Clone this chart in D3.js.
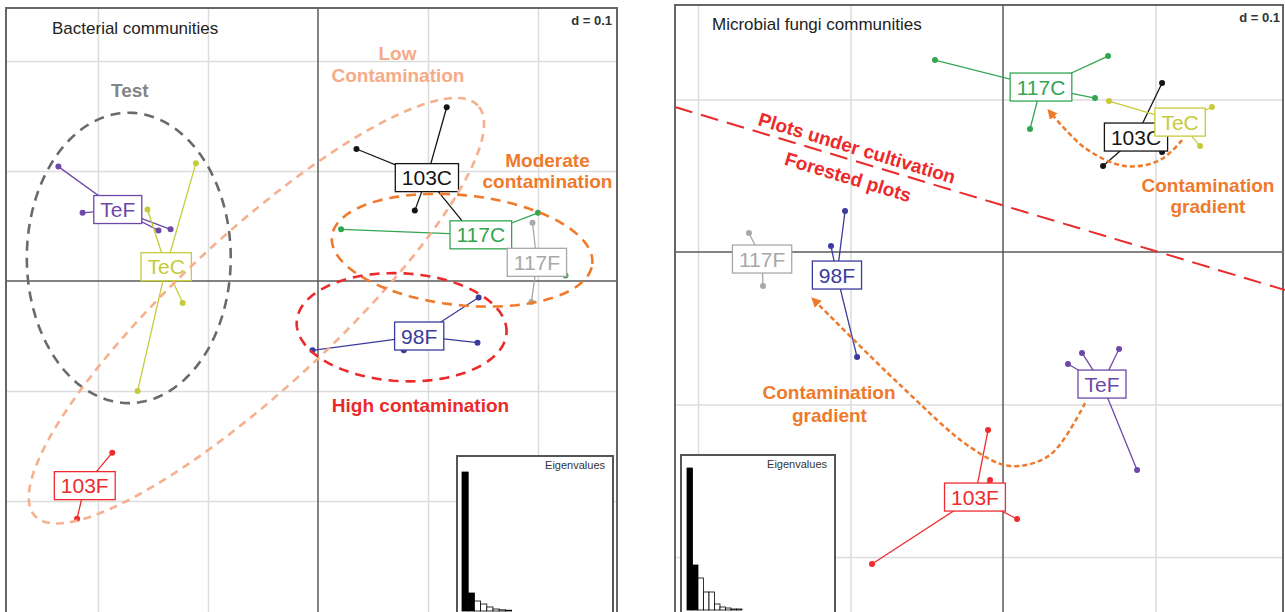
<!DOCTYPE html>
<html>
<head>
<meta charset="utf-8">
<script src="https://cdn.jsdelivr.net/npm/d3@7"></script>
<style>
    body { margin: 0; background: #fff; }
    svg { display: block; font-family: "Liberation Sans", Arial, sans-serif; }
</style>
</head>
<body>
<div id="chart"></div>
<script>
// sample classes
const groups = ['TeF', 'TeC', '103F', '103C', '117C', '117F', '98F'];

// bacterial communities: [class, axis 1, axis 2]
const bactPoints = [
    ['TeF', -0.236, 0.104], ['TeF', -0.214, 0.062], ['TeF', -0.145, 0.046], ['TeF', -0.134, 0.047],
    ['TeC', -0.111, 0.107], ['TeC', -0.155, 0.065], ['TeC', -0.123, -0.020], ['TeC', -0.164, -0.100],
    ['103F', -0.187, -0.156], ['103F', -0.219, -0.216],
    ['103C', 0.117, 0.158], ['103C', 0.035, 0.120], ['103C', 0.088, 0.064], ['103C', 0.138, 0.046],
    ['117C', 0.021, 0.047], ['117C', 0.200, 0.062], ['117C', 0.225, 0.005],
    ['117F', 0.195, 0.053], ['117F', 0.194, -0.019],
    ['98F', -0.005, -0.063], ['98F', 0.146, -0.015], ['98F', 0.145, -0.056], ['98F', 0.078, -0.063]
];
// class centres (label positions)
const bactCentres = [
    ['TeF', -0.182, 0.065], ['TeC', -0.138, 0.013], ['103F', -0.212, -0.186],
    ['103C', 0.099, 0.094], ['117C', 0.148, 0.042], ['117F', 0.199, 0.017], ['98F', 0.092, -0.050]
];
const bactEigen = [0.139, 0.018, 0.010, 0.007, 0.004, 0.002, 0.0012, 0.0008];
// hand-drawn groupings: [name, cx, cy, rx, ry, angle deg]
const bactEllipses = [
    ['Test', -0.172, 0.021, 0.0927, 0.132, 0],
    ['Low', -0.056, -0.027, 0.2745, 0.070, 42.8],
    ['Moderate', 0.131, 0.028, 0.119, 0.050, -6],
    ['High', 0.076, -0.042, 0.0955, 0.049, -3]
];
const bactNotes = [
    ['Test', 'Test', -0.171, 0.167],
    ['Low', 'Low', 0.0723, 0.2009],
    ['Low', 'Contamination', 0.0727, 0.1809],
    ['Moderate', 'Moderate', 0.2086, 0.1036],
    ['Moderate', 'contamination', 0.2086, 0.0845],
    ['High', 'High contamination', 0.0932, -0.1191]
];

// microbial fungi communities
const fungiPoints = [
    ['117C', -0.0446, 0.1259], ['117C', 0.0689, 0.1285], ['117C', 0.0603, 0.1010], ['117C', 0.0177, 0.0807],
    ['103C', 0.1043, 0.1108], ['103C', 0.0656, 0.0564], ['103C', 0.1043, 0.0656],
    ['TeC', 0.0695, 0.0990], ['TeC', 0.1370, 0.0951], ['TeC', 0.1292, 0.0695],
    ['117F', -0.1666, 0.0125], ['117F', -0.1574, -0.0223],
    ['98F', -0.1036, 0.0269], ['98F', -0.1128, 0.0039], ['98F', -0.0957, -0.0689],
    ['TeF', 0.0426, -0.0734], ['TeF', 0.0518, -0.0662], ['TeF', 0.0761, -0.0636], ['TeF', 0.0879, -0.1430],
    ['103F', -0.0098, -0.1167], ['103F', -0.0085, -0.1495], ['103F', 0.0092, -0.1751], ['103F', -0.0859, -0.2046]
];
const fungiCentres = [
    ['117C', 0.0249, 0.1082], ['103C', 0.0872, 0.0754], ['TeC', 0.1161, 0.0852],
    ['117F', -0.1580, -0.0046], ['98F', -0.1089, -0.0151], ['TeF', 0.0649, -0.0866], ['103F', -0.0184, -0.1607]
];
const fungiEigen = [0.142, 0.045, 0.032, 0.018, 0.018, 0.006, 0.003, 0.002, 0.001, 0.001];
const fungiDivider = [[-0.2151, 0.0951], [0.1849, -0.0249]];
const fungiArrows = [
    [[0.1174, 0.0734], [0.1030, 0.0603], [0.0800, 0.0564], [0.0538, 0.0682], [0.0308, 0.0918]],
    [[0.0538, -0.0990], [0.0308, -0.1331], [0.0046, -0.1403], [-0.0216, -0.1279], [-0.0675, -0.0872], [-0.1239, -0.0315]]
];
const fungiNotes = [
    ['grad', 'Contamination', 0.1344, 0.0393],
    ['grad', 'gradient', 0.1344, 0.0256],
    ['grad', 'Contamination', -0.1141, -0.0964],
    ['grad', 'gradient', -0.1138, -0.1115]
];
const dividerNotes = [
    ['Plots under cultivation', -0.0957, 0.0682],
    ['Forested plots', -0.1016, 0.0492]
];

const colors = {
    'TeF': '#6e48a8', 'TeC': '#c6cb3a', '103F': '#ee2b2f', '103C': '#151515',
    '117C': '#33a551', '117F': '#a8a8a8', '98F': '#3a3b9c'
};
const noteColors = {
    'Test': '#858585', 'Low': '#f5ab86', 'Moderate': '#ef7a2b', 'High': '#eb2a2c', 'grad': '#ee7a2c'
};
const ellipseColors = {
    'Test': '#6a6a6a', 'Low': '#f6b08d', 'Moderate': '#ef7a2b', 'High': '#eb2a2c'
};

const width = 1285;
const height = 612;

const svg = d3.select('#chart')
    .append('svg')
    .attr('width', width)
    .attr('height', height);

svg.append('defs').append('marker')
    .attr('id', 'arrow')
    .attr('viewBox', '0 0 10 10')
    .attr('refX', 6)
    .attr('refY', 5)
    .attr('markerWidth', 4)
    .attr('markerHeight', 4)
    .attr('orient', 'auto')
    .append('path')
    .attr('d', 'M0,0 L10,5 L0,10 z')
    .attr('fill', '#ee7a2c');

function drawPanel(p) {
    const [x0, x1, y0, y1] = p.box;
    const x = d3.scaleLinear().domain(p.xDomain).range([x0, x1]);
    const y = d3.scaleLinear().domain(p.yDomain).range([y0, y1]);
    const g = svg.append('g');

    // light grid, one line per 0.1
    g.append('g')
        .attr('transform', 'translate(0,' + y1 + ')')
        .call(d3.axisBottom(x).tickValues(p.gridX).tickSize(-(y1 - y0)).tickFormat(''))
        .call(a => a.select('.domain').remove())
        .selectAll('line').attr('stroke', '#dcdcdc').attr('stroke-width', 1.5);
    g.append('g')
        .attr('transform', 'translate(' + x0 + ',0)')
        .call(d3.axisLeft(y).tickValues(p.gridY).tickSize(-(x1 - x0)).tickFormat(''))
        .call(a => a.select('.domain').remove())
        .selectAll('line').attr('stroke', '#dcdcdc').attr('stroke-width', 1.5);

    // zero axes
    g.append('line')
        .attr('x1', x(0)).attr('x2', x(0)).attr('y1', y0).attr('y2', y1)
        .attr('stroke', '#5a5a5a').attr('stroke-width', 1.5);
    g.append('line')
        .attr('x1', x0).attr('x2', x1).attr('y1', y(0)).attr('y2', y(0))
        .attr('stroke', '#5a5a5a').attr('stroke-width', 1.5);

    g.append('rect')
        .attr('x', x0).attr('y', y0)
        .attr('width', x1 - x0).attr('height', y1 - y0)
        .attr('fill', 'none').attr('stroke', '#666').attr('stroke-width', 2);

    g.append('text')
        .attr('x', p.titlePos[0]).attr('y', p.titlePos[1])
        .attr('font-size', 17).attr('fill', '#222')
        .text(p.title);
    g.append('text')
        .attr('x', p.dPos[0]).attr('y', p.dPos[1])
        .attr('text-anchor', 'end')
        .attr('font-size', 13).attr('font-weight', 'bold').attr('fill', '#333')
        .text('d = 0.1');

    // eigenvalue inset
    const [ex0, ex1, ey0, ey1] = p.inset;
    const inset = g.append('g');
    inset.append('rect')
        .attr('x', ex0).attr('y', ey0)
        .attr('width', ex1 - ex0).attr('height', ey1 - ey0)
        .attr('fill', '#fff').attr('stroke', '#555').attr('stroke-width', 2);
    const bx = d3.scaleBand()
        .domain(d3.range(p.eigen.length))
        .range([p.bars[0], p.bars[0] + p.bars[1] * p.eigen.length]);
    const by = d3.scaleLinear()
        .domain([0, d3.max(p.eigen)])
        .range([p.bars[2], p.bars[3]]);
    inset.selectAll('rect.bar')
        .data(p.eigen)
        .enter()
        .append('rect')
        .attr('class', 'bar')
        .attr('x', (d, i) => bx(i))
        .attr('y', d => by(d))
        .attr('width', bx.bandwidth())
        .attr('height', d => by(0) - by(d))
        .attr('fill', (d, i) => i < 2 ? '#000' : '#fff')
        .attr('stroke', '#000')
        .attr('stroke-width', 0.8);
    inset.append('text')
        .attr('x', ex1 - 8).attr('y', ey0 + 13)
        .attr('text-anchor', 'end')
        .attr('font-size', 11).attr('fill', '#333')
        .text('Eigenvalues');

    // star lines from class centre to each sample
    const centre = {};
    p.centres.forEach(c => centre[c[0]] = c);
    g.append('g')
        .selectAll('line')
        .data(p.points)
        .enter()
        .append('line')
        .attr('x1', d => x(centre[d[0]][1]))
        .attr('y1', d => y(centre[d[0]][2]))
        .attr('x2', d => x(d[1]))
        .attr('y2', d => y(d[2]))
        .attr('stroke', d => colors[d[0]])
        .attr('stroke-width', 1.3);
    g.append('g')
        .selectAll('circle')
        .data(p.points)
        .enter()
        .append('circle')
        .attr('cx', d => x(d[1]))
        .attr('cy', d => y(d[2]))
        .attr('r', 3)
        .attr('fill', d => colors[d[0]]);

    // class labels in boxes
    const labels = g.append('g')
        .selectAll('g')
        .data(p.centres)
        .enter()
        .append('g')
        .attr('transform', d => 'translate(' + x(d[1]) + ',' + y(d[2]) + ')');
    labels.append('rect');
    labels.append('text')
        .attr('text-anchor', 'middle')
        .attr('dy', '0.36em')
        .attr('font-size', 21)
        .attr('fill', d => colors[d[0]])
        .text(d => d[0]);
    labels.each(function (d) {
        const w = d3.select(this).select('text').node().getComputedTextLength() + 13;
        d3.select(this).select('rect')
            .attr('x', -w / 2).attr('y', -14)
            .attr('width', w).attr('height', 28)
            .attr('fill', '#fff')
            .attr('stroke', colors[d[0]])
            .attr('stroke-width', 1.3);
    });

    return { g, x, y };
}

function ellipsePath(x, y, e) {
    const a = e[5] * Math.PI / 180;
    const pts = d3.range(0, 360, 3).map(t => {
        const r = t * Math.PI / 180;
        const ux = e[3] * Math.cos(r);
        const uy = e[4] * Math.sin(r);
        return [e[1] + ux * Math.cos(a) - uy * Math.sin(a), e[2] + ux * Math.sin(a) + uy * Math.cos(a)];
    });
    return d3.line().x(d => x(d[0])).y(d => y(d[1])).curve(d3.curveLinearClosed)(pts);
}

// left panel
const left = drawPanel({
    box: [6, 617, 8, 614],
    xDomain: [-0.2836, 0.2718],
    yDomain: [0.2482, -0.3027],
    gridX: [-0.2, -0.1, 0.1, 0.2],
    gridY: [0.2, 0.1, -0.1, -0.2],
    title: 'Bacterial communities',
    titlePos: [52, 34],
    dPos: [612, 25],
    inset: [457, 613, 456, 618],
    bars: [462, 6.2, 611, 472],
    eigen: bactEigen,
    points: bactPoints,
    centres: bactCentres
});

left.g.append('g')
    .selectAll('path')
    .data(bactEllipses)
    .enter()
    .append('path')
    .attr('d', d => ellipsePath(left.x, left.y, d))
    .attr('fill', 'none')
    .attr('stroke', d => ellipseColors[d[0]])
    .attr('stroke-width', 2.6)
    .attr('stroke-dasharray', d => d[0] === 'Low' ? '8,6' : '10,7');

left.g.append('g')
    .selectAll('text')
    .data(bactNotes)
    .enter()
    .append('text')
    .attr('x', d => left.x(d[2]))
    .attr('y', d => left.y(d[3]))
    .attr('text-anchor', 'middle')
    .attr('font-size', 19)
    .attr('font-weight', 'bold')
    .attr('fill', d => noteColors[d[0]])
    .text(d => d[1]);

// right panel
const right = drawPanel({
    box: [675, 1283, 5, 614],
    xDomain: [-0.2151, 0.1836],
    yDomain: [0.1620, -0.2374],
    gridX: [-0.2, -0.1, 0.1],
    gridY: [0.1, -0.1, -0.2],
    title: 'Microbial fungi communities',
    titlePos: [712, 30],
    dPos: [1280, 22],
    inset: [681, 835, 455, 618],
    bars: [687, 5.5, 610, 468],
    eigen: fungiEigen,
    points: fungiPoints,
    centres: fungiCentres
});

right.g.append('line')
    .attr('x1', right.x(fungiDivider[0][0]))
    .attr('y1', right.y(fungiDivider[0][1]))
    .attr('x2', right.x(fungiDivider[1][0]))
    .attr('y2', right.y(fungiDivider[1][1]))
    .attr('stroke', '#eb2a2c')
    .attr('stroke-width', 2)
    .attr('stroke-dasharray', '18,9');

const angle = Math.atan2(
    right.y(fungiDivider[1][1]) - right.y(fungiDivider[0][1]),
    right.x(fungiDivider[1][0]) - right.x(fungiDivider[0][0])) * 180 / Math.PI;

right.g.append('g')
    .selectAll('text')
    .data(dividerNotes)
    .enter()
    .append('text')
    .attr('transform', d => 'translate(' + right.x(d[1]) + ',' + right.y(d[2]) + ') rotate(' + angle + ')')
    .attr('text-anchor', 'middle')
    .attr('dy', '0.35em')
    .attr('font-size', 19)
    .attr('font-weight', 'bold')
    .attr('fill', '#eb2a2c')
    .text(d => d[0]);

right.g.append('g')
    .selectAll('path')
    .data(fungiArrows)
    .enter()
    .append('path')
    .attr('d', d3.line().x(d => right.x(d[0])).y(d => right.y(d[1])).curve(d3.curveCatmullRom))
    .attr('fill', 'none')
    .attr('stroke', '#ee7a2c')
    .attr('stroke-width', 2.5)
    .attr('stroke-dasharray', '5,3')
    .attr('marker-end', 'url(#arrow)');

right.g.append('g')
    .selectAll('text')
    .data(fungiNotes)
    .enter()
    .append('text')
    .attr('x', d => right.x(d[2]))
    .attr('y', d => right.y(d[3]))
    .attr('text-anchor', 'middle')
    .attr('font-size', 19)
    .attr('font-weight', 'bold')
    .attr('fill', d => noteColors[d[0]])
    .text(d => d[1]);
</script>
</body>
</html>
